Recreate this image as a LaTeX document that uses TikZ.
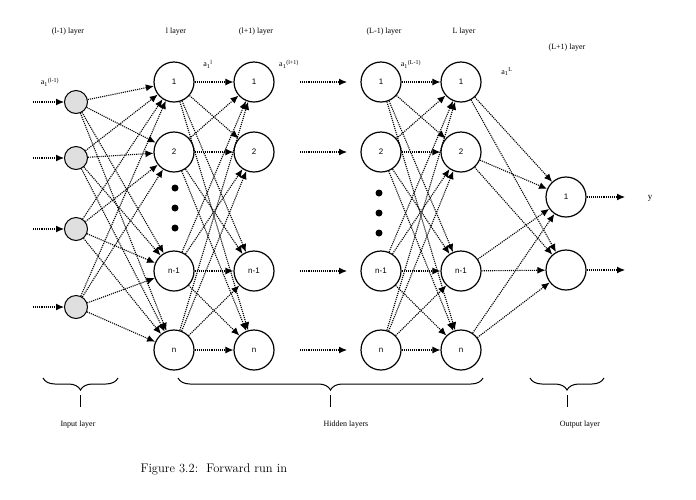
\documentclass[tikz,border=0pt]{standalone}
\usepackage{fontspec}
\setmainfont{Liberation Serif}
\newfontfamily\nsans{Liberation Sans}
\newfontfamily\lmr{Latin Modern Roman}
\usetikzlibrary{arrows.meta,decorations.pathreplacing}
\begin{document}
\begin{tikzpicture}[x=1pt,y=-1pt,
  neu/.style={circle,draw,line width=1.2pt,minimum size=40pt,inner sep=0pt,font=\nsans\fontsize{8}{9}\selectfont},
  inp/.style={circle,draw,line width=1pt,fill=gray!25,minimum size=23pt,inner sep=0pt},
  con/.style={densely dotted,line width=1.1pt,-{Latex[length=8pt,width=7pt]}},
  lab/.style={font=\fontsize{8}{9}\selectfont},
  dot/.style={circle,fill,inner sep=0pt,minimum size=7pt},
  br/.style={decorate,decoration={brace,mirror,amplitude=12pt},line width=1pt}]
\useasboundingbox (0,0) rectangle (696,499);
% input layer
\foreach \i/\y in {1/102,2/158,3/229,4/307}{
  \node[inp] (i\i) at (76,\y) {};
  \coordinate (s\i) at (33,\y);
  \draw[con] (s\i) -- (i\i);
}
% hidden layers
\foreach \c/\x in {a/174,b/254,c/381,d/461}{
  \node[neu] (\c1) at (\x,82) {1};
  \node[neu] (\c2) at (\x,152) {2};
  \node[neu] (\c3) at (\x,271) {n-1};
  \node[neu] (\c4) at (\x,350) {n};
}
\node[neu] (o1) at (566,197) {1};
\node[neu] (o2) at (566,270) {};
% dots
\foreach \k/\y in {1/188,2/208,3/228}{\node[dot] (da\k) at (175,\y) {};}
\foreach \k/\y in {1/193,2/213,3/233}{\node[dot] (dc\k) at (379,\y) {};}
% connections
\foreach \i in {1,...,4}{\foreach \j in {1,...,4}{
  \draw[con] (i\i) -- (a\j);
  \draw[con] (a\i) -- (b\j);
  \draw[con] (c\i) -- (d\j);
}}
\foreach \i in {1,...,4}{\foreach \j in {1,2}{\draw[con] (d\i) -- (o\j);}}
% gap arrows
\foreach \j/\y in {1/82,2/152,3/271,4/350}{
  \coordinate (g\j a) at (300,\y); \coordinate (g\j b) at (347,\y);
  \draw[con] (g\j a) -- (g\j b);
}
\coordinate (y1) at (625,197); \coordinate (y2) at (625,270);
\draw[con] (o1) -- (y1);
\draw[con] (o2) -- (y2);
\node[font=\fontsize{9}{10}\selectfont] (ylab) at (650,198) {y};
% top labels
\node[lab] (t1) at (68,32) {(l-1) layer};
\node[lab] (t2) at (176,32) {l layer};
\node[lab] (t3) at (256,32) {(l+1) layer};
\node[lab] (t4) at (384,32) {(L-1) layer};
\node[lab] (t5) at (464,32) {L layer};
\node[lab] (t6) at (567,48) {(L+1) layer};
\node[lab] (s1) at (50,82) {a\textsubscript{1}\textsuperscript{(l-1)}};
\node[lab] (s2) at (208,64) {a\textsubscript{1}\textsuperscript{l}};
\node[lab] (s3) at (289,64) {a\textsubscript{1}\textsuperscript{(l+1)}};
\node[lab] (s4) at (411,64) {a\textsubscript{1}\textsuperscript{(L-1)}};
\node[lab] (s5) at (507,72) {a\textsubscript{1}\textsuperscript{L}};
% braces
\coordinate (b1a) at (43,378); \coordinate (b1b) at (118,378);
\coordinate (b2a) at (178,378); \coordinate (b2b) at (483,378);
\coordinate (b3a) at (530,378); \coordinate (b3b) at (604,378);
\draw[br] (b1a) -- (b1b);
\draw[br] (b2a) -- (b2b);
\draw[br] (b3a) -- (b3b);
\draw[line width=1pt] (80.5,395) -- (80.5,407);
\draw[line width=1pt] (330.5,395) -- (330.5,407);
\draw[line width=1pt] (567,395) -- (567,407);
\node[lab] (L1) at (78,425) {Input layer};
\node[lab] (L2) at (346,425) {Hidden layers};
\node[lab] (L3) at (580,425) {Output layer};
\node[font=\lmr\fontsize{12.5}{14}\selectfont,anchor=west] (cap) at (137,469) {Figure 3.2:\ \ Forward run in};
\end{tikzpicture}
\end{document}
